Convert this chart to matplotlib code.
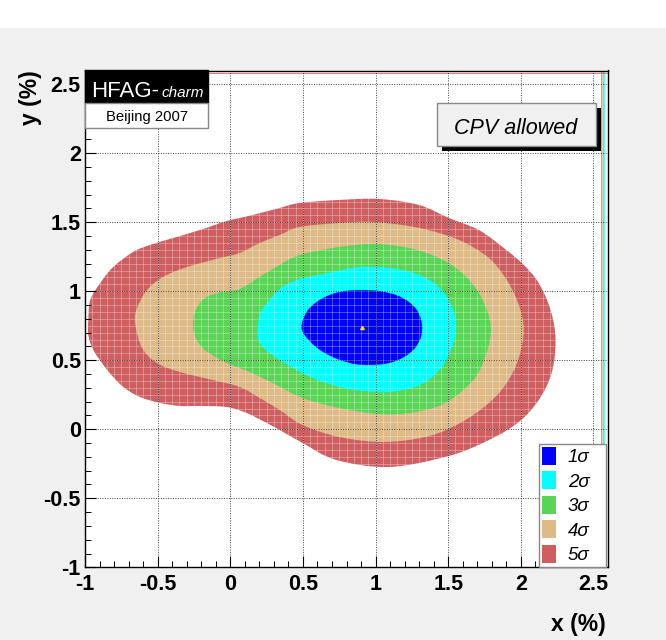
import matplotlib
matplotlib.use('Agg')
import matplotlib.pyplot as plt
from matplotlib.patches import Patch, Rectangle, PathPatch
from matplotlib.path import Path
from matplotlib.ticker import MultipleLocator
import numpy as np

plt.rcParams['font.family'] = ['Liberation Sans', 'DejaVu Sans']

# ---------------- data (contour boundaries, in %) ----------------
sig1_x = [0.49, 0.525, 0.593, 0.682, 0.785, 0.909, 1.025, 1.142, 1.231, 1.293, 1.32, 1.313,
          1.272, 1.197, 1.094, 0.971, 0.854, 0.737, 0.628, 0.545]
sig1_y = [0.734, 0.85, 0.922, 0.973, 1.002, 1.009, 1.002, 0.973, 0.922, 0.85, 0.756, 0.669,
          0.589, 0.524, 0.48, 0.466, 0.473, 0.509, 0.567, 0.64]

sig2_x = [0.189, 0.209, 0.271, 0.34, 0.477, 0.703, 0.888, 1.094, 1.265, 1.403, 1.492, 1.54,
          1.553, 1.519, 1.451, 1.334, 1.163, 0.991, 0.785, 0.566, 0.374, 0.243, 0.195]
sig2_y = [0.72, 0.85, 0.937, 1.017, 1.089, 1.14, 1.176, 1.169, 1.133, 1.06, 0.959, 0.843,
          0.72, 0.575, 0.444, 0.336, 0.278, 0.27, 0.299, 0.372, 0.48, 0.575, 0.647]

sig3_x = [-0.257, -0.237, -0.175, -0.058, 0.065, 0.202, 0.34, 0.477, 0.751, 0.991, 1.231,
          1.437, 1.588, 1.698, 1.766, 1.794, 1.766, 1.698, 1.588, 1.437, 1.231, 1.025, 0.751,
          0.497, 0.305, 0.134, -0.038, -0.175, -0.237]
sig3_y = [0.756, 0.864, 0.951, 0.995, 1.017, 1.104, 1.191, 1.263, 1.321, 1.343, 1.314,
          1.241, 1.14, 1.009, 0.864, 0.72, 0.56, 0.393, 0.27, 0.169, 0.118, 0.111, 0.154,
          0.227, 0.328, 0.415, 0.488, 0.575, 0.662]

sig4_x = [-0.655, -0.641, -0.573, -0.463, -0.298, -0.072, 0.065, 0.202, 0.34, 0.477, 0.751,
          0.991, 1.3, 1.574, 1.78, 1.903, 1.986, 2.02, 1.986, 1.903, 1.78, 1.595, 1.368, 1.06,
          0.751, 0.497, 0.34, 0.202, 0.065, -0.12, -0.346, -0.504, -0.607]
sig4_y = [0.77, 0.879, 1.009, 1.104, 1.176, 1.241, 1.278, 1.35, 1.408, 1.466, 1.495,
          1.502, 1.459, 1.372, 1.241, 1.082, 0.901, 0.72, 0.517, 0.336, 0.191, 0.053, -0.049,
          -0.092, -0.056, 0.031, 0.14, 0.227, 0.307, 0.357, 0.415, 0.48, 0.589]

sig5_x = [-0.977, -0.964, -0.895, -0.806, -0.669, -0.552, -0.394, -0.209, -0.024, 0.154,
          0.34, 0.477, 0.751, 1.025, 1.3, 1.505, 1.711, 1.883, 2.02, 2.123, 2.205, 2.239,
          2.212, 2.123, 1.986, 1.78, 1.505, 1.094, 0.73, 0.497, 0.34, 0.237, 0.113, -0.024,
          -0.209, -0.346, -0.484, -0.621, -0.737, -0.847, -0.943, -0.977]
sig5_y = [0.792, 0.937, 1.06, 1.176, 1.285, 1.336, 1.386, 1.444, 1.509, 1.553,
          1.604, 1.64, 1.662, 1.669, 1.625, 1.531, 1.444, 1.314, 1.191, 1.06, 0.864, 0.647,
          0.408, 0.212, 0.053, -0.078, -0.193, -0.273, -0.222, -0.099, -0.005, 0.053, 0.118,
          0.161, 0.169, 0.169, 0.191, 0.234, 0.307, 0.43, 0.575, 0.684]

best_fit_x = [0.909]
best_fit_y = [0.735]

labels = ['1σ', '2σ', '3σ', '4σ', '5σ']
colors = ['#0000ff', '#00ffff', '#59d454', '#deba87', '#cf5e61']

tick_values = [-1, -0.5, 0, 0.5, 1, 1.5, 2, 2.5]
tick_labels = ['-1', '-0.5', '0', '0.5', '1', '1.5', '2', '2.5']

edge_x = [2.55, 2.558, 2.566, 2.574]
edge_x_colors = ['#cf5e61', '#deba87', '#59d454', '#00ffff']
edge_y = [2.595, 2.58]
edge_y_colors = ['#00ffff', '#cf5e61']

# ---------------- figure ----------------
W, H = 666, 640
fig = plt.figure(figsize=(W / 100, H / 100), dpi=100, facecolor='#f0f0f0')


def fx(px):
    return px / W


def fy(py):
    return 1 - py / H


def closed_smooth_path(xs, ys):
    """Closed Catmull-Rom curve through the boundary points, as cubic Bezier segments."""
    pts = np.column_stack([xs, ys])
    n = len(pts)
    verts = [pts[0]]
    codes = [Path.MOVETO]
    for i in range(n):
        p0, p1, p2, p3 = pts[i - 1], pts[i], pts[(i + 1) % n], pts[(i + 2) % n]
        verts += [p1 + (p2 - p0) / 6.0, p2 - (p3 - p1) / 6.0, p2]
        codes += [Path.CURVE4] * 3
    verts.append(pts[0])
    codes.append(Path.CLOSEPOLY)
    return Path(verts, codes)


fig.patches.append(Rectangle((0, fy(28)), 1, 28 / H, transform=fig.transFigure,
                             facecolor='white', edgecolor='none', zorder=0))

ax = fig.add_axes([fx(85), fy(567.3), (608 - 85) / W, (567.3 - 70.5) / H])
ax.set_facecolor('white')
ax.set_xlim(-1, 2.6)
ax.set_ylim(-1, 2.6)

contours = [(sig1_x, sig1_y), (sig2_x, sig2_y), (sig3_x, sig3_y), (sig4_x, sig4_y), (sig5_x, sig5_y)]
for (xs, ys), col in reversed(list(zip(contours, colors))):
    ax.add_patch(PathPatch(closed_smooth_path(xs, ys), facecolor=col, edgecolor='none',
                           lw=0, zorder=1))

# histogram cell structure
cells = np.arange(-1, 2.6001, 0.05)
ax.vlines(cells, -1, 2.6, colors='white', lw=0.7, alpha=0.3, zorder=1.5)
ax.hlines(cells, -1, 2.6, colors='white', lw=0.7, alpha=0.3, zorder=1.5)

# edge artefacts
for xv, c in zip(edge_x, edge_x_colors):
    ax.vlines(xv, -1, 2.6, colors=c, lw=0.6, alpha=0.8, zorder=1.6)
for yv, c in zip(edge_y, edge_y_colors):
    ax.hlines(yv, -1, 2.6, colors=c, lw=0.7, alpha=0.8, zorder=1.6)

ax.plot(best_fit_x, best_fit_y, marker=(3, 0, 0), ms=3, color='#ffdd00', ls='none', zorder=3)

ax.set_axisbelow(False)
ax.grid(True, which='major', color='#222222', ls=(0, (1, 1.5)), lw=0.7, alpha=0.85)

ax.set_xticks(tick_values, tick_labels)
ax.set_yticks(tick_values, tick_labels)
ax.xaxis.set_minor_locator(MultipleLocator(0.1))
ax.yaxis.set_minor_locator(MultipleLocator(0.1))
ax.tick_params(which='both', direction='in', top=False, right=False, color='black')
ax.tick_params(which='major', length=8, width=0.8, labelsize=15.5)
ax.tick_params(which='minor', length=4.5, width=0.7)
ax.tick_params(axis='x', pad=5)
ax.tick_params(axis='y', pad=3)
for lab in ax.get_xticklabels() + ax.get_yticklabels():
    lab.set_fontweight('bold')
for s in ax.spines.values():
    s.set_color('black')
    s.set_linewidth(1.0)
    s.set_zorder(4)

fig.text(fx(30), fy(98), 'y (%)', rotation=90, ha='center', va='center',
         fontsize=16.5, fontweight='bold')
fig.text(fx(606), fy(624), 'x (%)', ha='right', va='center',
         fontsize=16.5, fontweight='bold')

# legend
handles = [Patch(facecolor=c, edgecolor='none') for c in colors]
leg = ax.legend(handles, labels, loc='lower left', bbox_to_anchor=(0.869, 0.0, 0.128, 0.256),
                mode='expand', borderaxespad=0, frameon=True, fancybox=False,
                edgecolor='#888888', framealpha=1, facecolor='white',
                prop={'style': 'italic', 'size': 13.5},
                handlelength=0.75, handleheight=1.1, handletextpad=0.6,
                labelspacing=0.28, borderpad=0.15)
leg.get_frame().set_linewidth(1.0)
leg.set_zorder(6)

# HFAG logo
fig.patches.append(Rectangle((fx(85), fy(103)), 123 / W, 33 / H, transform=fig.transFigure,
                             facecolor='black', edgecolor='black', zorder=10))
fig.patches.append(Rectangle((fx(85), fy(128)), 123 / W, 25 / H, transform=fig.transFigure,
                             facecolor='white', edgecolor='#888888', lw=1, zorder=10))
fig.text(fx(91.5), fy(97), 'HFAG-', color='white', fontsize=16, ha='left', va='baseline', zorder=11)
fig.text(fx(161), fy(97), 'charm', color='white', fontsize=11, style='italic',
         ha='left', va='baseline', zorder=11)
fig.text(fx(147), fy(121.5), 'Beijing 2007', color='black', fontsize=10.7, ha='center',
         va='baseline', zorder=11)

# CPV allowed box
fig.patches.append(Rectangle((fx(442), fy(151)), 159 / W, 43 / H, transform=fig.transFigure,
                             facecolor='black', edgecolor='none', zorder=10))
fig.patches.append(Rectangle((fx(437), fy(146)), 159 / W, 43 / H, transform=fig.transFigure,
                             facecolor='#f0f0f0', edgecolor='#888888', lw=1, zorder=10))
fig.text(fx(516), fy(133.5), 'CPV allowed', style='italic', fontsize=15.5, ha='center',
         va='baseline', zorder=11)

fig.savefig('out.png', dpi=100, facecolor=fig.get_facecolor())
